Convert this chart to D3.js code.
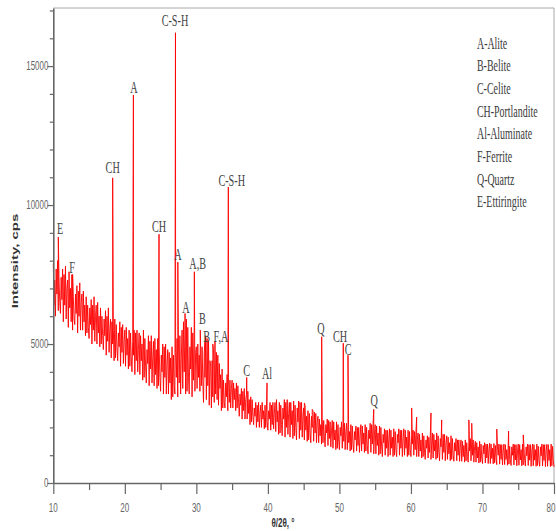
<!DOCTYPE html>
<html>
<head>
<meta charset="utf-8">
<script src="https://cdn.jsdelivr.net/npm/d3@7"></script>
<style>
  body { margin: 0; background: #fff; }
  svg { display: block; }
</style>
</head>
<body>
<div id="chart"></div>
<script>
// background pattern, 2θ from 10 to 80 in 0.1° steps (10 values per degree)
let bgStart = 10;
let bgStep = 0.1;
let bgIntensity = [
  7900, 6400, 7300, 6000, 7700, 6800, 8000, 6200, 7400, 6500,   // 10
  6100, 7400, 6600, 7700, 5800, 7500, 6400, 7800, 5900, 7000,   // 11
  7300, 5600, 7600, 6300, 7000, 5800, 7500, 5500, 6700, 5900,   // 12
  5700, 6800, 6100, 7100, 5400, 6900, 6000, 7200, 5500, 6500,   // 13
  6800, 5500, 6900, 5800, 6400, 5300, 6700, 5400, 6400, 5600,   // 14
  5200, 6300, 5700, 6600, 5000, 6400, 5500, 6700, 5100, 6000,   // 15
  6400, 5000, 6500, 5400, 6000, 4900, 6300, 5000, 6000, 5300,   // 16
  4800, 5900, 5300, 6200, 4600, 6000, 5100, 6300, 4700, 5500,   // 17
  5900, 4500, 5800, 5000, 5500, 4400, 5900, 4500, 5700, 4900,   // 18
  4400, 5400, 4900, 5800, 4200, 5600, 4700, 5700, 4300, 5100,   // 19
  5500, 4200, 5600, 4600, 5200, 4100, 5500, 4200, 5400, 4500,   // 20
  4000, 5100, 4600, 5500, 3900, 5400, 4400, 5500, 4000, 4800,   // 21
  5400, 3900, 5300, 4400, 5000, 3700, 5500, 3800, 5200, 4200,   // 22
  3600, 4800, 4300, 5300, 3500, 5100, 4100, 5300, 3600, 4500,   // 23
  5100, 3500, 5200, 3900, 4800, 3400, 5200, 3500, 4900, 3800,   // 24
  3300, 4600, 4000, 5000, 3200, 4900, 3800, 5000, 3200, 4300,   // 25
  4800, 3200, 4700, 3600, 4500, 3000, 4900, 3100, 4600, 3500,   // 26
  3200, 4700, 3800, 5200, 3100, 5000, 3600, 5300, 3200, 4500,   // 27
  5500, 3400, 5800, 4000, 5300, 3200, 5900, 3300, 5600, 3800,   // 28
  3200, 4900, 4100, 5600, 3100, 5400, 3700, 5600, 3300, 4700,   // 29
  4900, 3400, 5000, 3800, 4600, 3300, 4800, 3500, 4900, 3700,   // 30
  2900, 4700, 3800, 5300, 3000, 5200, 3500, 5100, 2800, 4400,   // 31
  4200, 2700, 4400, 3100, 4800, 2900, 5000, 3200, 4700, 3000,   // 32
  4600, 2800, 4300, 3400, 3900, 2600, 4100, 2700, 3700, 2900,   // 33
  2700, 3600, 3100, 3900, 2600, 3800, 2900, 3700, 2700, 3400,   // 34
  3700, 2700, 3600, 3000, 3400, 2600, 3600, 2700, 3500, 2900,   // 35
  2400, 3200, 2800, 3400, 2300, 3300, 2600, 3400, 2300, 3000,   // 36
  3200, 2300, 3300, 2500, 3000, 2100, 3100, 2200, 3000, 2400,   // 37
  2100, 2700, 2400, 2900, 2000, 2800, 2200, 2900, 2000, 2500,   // 38
  2800, 2000, 2900, 2300, 2600, 1950, 2800, 2000, 2700, 2200,   // 39
  1900, 2600, 2300, 2900, 1900, 2800, 2100, 2900, 1950, 2500,   // 40
  2900, 1850, 3000, 2200, 2600, 1750, 2900, 1800, 2800, 2100,   // 41
  1700, 2700, 2300, 3000, 1650, 2900, 2000, 3000, 1750, 2500,   // 42
  2900, 1650, 2900, 2100, 2600, 1600, 2950, 1700, 2800, 2000,   // 43
  1550, 2700, 2200, 2950, 1600, 2900, 1900, 2900, 1650, 2400,   // 44
  2700, 1550, 2800, 1900, 2400, 1500, 2600, 1550, 2500, 1800,   // 45
  1450, 2400, 2000, 2600, 1500, 2550, 1800, 2500, 1450, 2200,   // 46
  2400, 1450, 2300, 1700, 2100, 1400, 2350, 1450, 2250, 1650,   // 47
  1300, 2100, 1800, 2300, 1350, 2250, 1600, 2200, 1300, 1900,   // 48
  2250, 1250, 2200, 1550, 1900, 1200, 2200, 1250, 2100, 1500,   // 49
  1200, 2000, 1700, 2200, 1250, 2150, 1500, 2150, 1200, 1850,   // 50
  2150, 1200, 2100, 1450, 1850, 1150, 2100, 1200, 2050, 1400,   // 51
  1100, 1850, 1550, 2050, 1150, 2000, 1350, 2000, 1100, 1700,   // 52
  2100, 1150, 2050, 1400, 1800, 1100, 2100, 1150, 2000, 1350,   // 53
  1050, 1900, 1600, 2150, 1100, 2100, 1400, 2100, 1050, 1750,   // 54
  2100, 1050, 2050, 1350, 1800, 1000, 2050, 1050, 2000, 1300,   // 55
  950, 1750, 1450, 1950, 1000, 1900, 1250, 1900, 950, 1600,     // 56
  1950, 1000, 1900, 1250, 1650, 950, 1950, 1000, 1850, 1200,    // 57
  950, 1750, 1450, 1950, 1000, 1900, 1250, 1900, 950, 1600,     // 58
  1950, 1000, 1900, 1250, 1650, 950, 1900, 1000, 1850, 1200,    // 59
  950, 1700, 1400, 1900, 1000, 1850, 1200, 1850, 950, 1550,     // 60
  1800, 950, 1750, 1150, 1550, 900, 1800, 950, 1700, 1100,      // 61
  850, 1550, 1250, 1700, 900, 1650, 1100, 1650, 850, 1400,      // 62
  1800, 900, 1750, 1150, 1550, 850, 1800, 900, 1700, 1100,      // 63
  800, 1600, 1300, 1800, 850, 1750, 1100, 1750, 800, 1450,      // 64
  1700, 850, 1650, 1050, 1450, 800, 1700, 850, 1600, 1000,      // 65
  780, 1450, 1150, 1600, 800, 1550, 1000, 1550, 780, 1300,      // 66
  1550, 780, 1500, 950, 1350, 750, 1550, 800, 1450, 950,        // 67
  750, 1450, 1150, 1600, 800, 1550, 1000, 1550, 750, 1300,      // 68
  1500, 750, 1450, 900, 1300, 720, 1500, 750, 1400, 900,        // 69
  700, 1350, 1050, 1450, 720, 1400, 900, 1400, 700, 1200,       // 70
  1430, 700, 1400, 880, 1250, 690, 1420, 720, 1350, 870,        // 71
  660, 1300, 1000, 1400, 680, 1380, 850, 1380, 650, 1150,       // 72
  1400, 660, 1380, 850, 1200, 640, 1400, 680, 1320, 840,        // 73
  630, 1300, 1000, 1400, 650, 1380, 830, 1380, 620, 1150,       // 74
  1400, 640, 1380, 830, 1200, 620, 1400, 650, 1320, 820,        // 75
  610, 1300, 980, 1400, 630, 1380, 820, 1380, 600, 1150,        // 76
  1400, 620, 1380, 820, 1200, 600, 1400, 630, 1320, 810,        // 77
  600, 1300, 980, 1400, 610, 1380, 810, 1380, 590, 1150,        // 78
  1390, 600, 1380, 810, 1200, 590, 1400, 620, 1320, 800,        // 79
  580                                                           // 80
];

// sharp reflections
let peakTheta = [10.7, 12.7, 18.3, 21.2, 24.78, 27.08, 27.41, 28.42, 29.72, 30.55, 31.2, 32.3, 32.6,
  34.47, 37.04, 39.88, 45.1, 46.2, 47.52, 50.54, 51.2, 54.8, 60.1, 60.8, 62.8, 64.3, 68.1, 68.5,
  72.0, 73.65, 75.7];
let peakIntensity = [8850, 7500, 10980, 13960, 8950, 16200, 7950, 6100, 7600, 5500, 5080, 5000, 5100,
  10650, 3800, 3600, 2880, 2650, 5260, 5030, 4600, 2650, 2700, 2370, 2520, 2270, 2270, 2150,
  1940, 1870, 1730];

// phase labels: text, 2θ, intensity at baseline
let labelText = ["E", "F", "CH", "A", "C-S-H", "CH", "A", "A,B", "A", "B", "B", "F,A", "C-S-H",
  "C", "Al", "Q", "CH", "C", "Q"];
let labelTheta = [10.94, 12.61, 18.3, 21.28, 27.01, 24.78, 27.43, 30.19, 28.55, 30.86, 31.45, 33.44,
  34.94, 37.04, 39.88, 47.43, 50.09, 51.21, 54.85];
let labelIntensity = [8970, 7570, 11170, 14020, 16430, 9040, 8035, 7710, 6125, 5730, 5080, 5080,
  10700, 3855, 3750, 5370, 5080, 4610, 2770];

let legendItems = ["A-Alite", "B-Belite", "C-Celite", "CH-Portlandite", "Al-Aluminate",
  "F-Ferrite", "Q-Quartz", "E-Ettiringite"];

let xTicks = [10, 20, 30, 40, 50, 60, 70, 80];
let xMinor = [15, 25, 35, 45, 55, 65, 75];
let yTicks = [0, 5000, 10000, 15000];
let yMinor = [1000, 2000, 3000, 4000, 6000, 7000, 8000, 9000, 11000, 12000, 13000, 14000, 16000, 17000];

let width = 556;
let height = 531;
let squeeze = 0.62; // the picture is narrowed, so are its letters

let x = d3.scaleLinear().domain([10, 80]).range([53.3, 554]);
let y = d3.scaleLinear().domain([0, 17090]).range([483, 8]);

let svg = d3.select("#chart")
  .append("svg")
  .attr("width", width)
  .attr("height", height);

// merge background and peaks into one pattern
let points = bgIntensity.map((v, i) => [bgStart + i * bgStep, v]);
peakTheta.forEach((t, i) => points.push([t, peakIntensity[i]]));
points.sort((a, b) => a[0] - b[0]);

// frame top / right
svg.append("path")
  .attr("d", `M${x(10)},${y(17090)}H${x(80)}V${y(0)}`)
  .attr("fill", "none")
  .attr("stroke", "#a8a8a8")
  .attr("stroke-width", 1);

svg.append("path")
  .datum(points)
  .attr("fill", "none")
  .attr("stroke", "#f00")
  .attr("stroke-width", 0.9)
  .attr("stroke-linejoin", "round")
  .attr("d", d3.line().x(d => x(d[0])).y(d => y(d[1])));

function styleAxis(g, keepDomain) {
  g.selectAll(".tick line").attr("stroke", "#666").attr("stroke-width", 1.2);
  if (keepDomain) g.select(".domain").attr("stroke", "#666").attr("stroke-width", 1.6);
  else g.select(".domain").remove();
}

svg.append("g")
  .attr("transform", `translate(0,${y(0)})`)
  .call(d3.axisBottom(x).tickValues(xTicks).tickSize(11).tickSizeOuter(0).tickFormat(""))
  .call(g => styleAxis(g, true));

svg.append("g")
  .attr("transform", `translate(0,${y(0)})`)
  .call(d3.axisBottom(x).tickValues(xMinor).tickSize(7).tickFormat(""))
  .call(g => styleAxis(g, false));

svg.append("g")
  .attr("transform", `translate(${x(10)},0)`)
  .call(d3.axisLeft(y).tickValues(yTicks).tickSize(6).tickSizeOuter(0).tickFormat(""))
  .call(g => styleAxis(g, true));

svg.append("g")
  .attr("transform", `translate(${x(10)},0)`)
  .call(d3.axisLeft(y).tickValues(yMinor).tickSize(3.5).tickFormat(""))
  .call(g => styleAxis(g, false));

// tick labels
svg.selectAll(".xlab")
  .data(xTicks)
  .join("text")
  .attr("class", "xlab")
  .attr("transform", d => `translate(${Math.min(x(d), width - 5)},${y(0) + 29}) scale(${squeeze},1)`)
  .attr("text-anchor", "middle")
  .attr("font-family", "Liberation Sans, Arial, sans-serif")
  .attr("font-size", 13)
  .attr("fill", "#666")
  .text(d => d);

svg.selectAll(".ylab")
  .data(yTicks)
  .join("text")
  .attr("class", "ylab")
  .attr("transform", d => `translate(${x(10) - 5},${y(d) + 4}) scale(0.66,1)`)
  .attr("text-anchor", "end")
  .attr("font-family", "Liberation Sans, Arial, sans-serif")
  .attr("font-size", 12)
  .attr("fill", "#666")
  .text(d => d);

// axis titles
svg.append("text")
  .attr("transform", `translate(18,261) scale(${squeeze},1) rotate(-90)`)
  .attr("text-anchor", "middle")
  .attr("font-family", "Liberation Sans, Arial, sans-serif")
  .attr("font-weight", "bold")
  .attr("font-size", 15)
  .attr("fill", "#333")
  .text("Intensity, cps");

svg.append("text")
  .attr("transform", `translate(283,527) scale(${squeeze},1)`)
  .attr("text-anchor", "middle")
  .attr("font-family", "Liberation Sans, Arial, sans-serif")
  .attr("font-weight", "bold")
  .attr("font-size", 13)
  .attr("fill", "#333")
  .text("θ/2θ, °");

// phase labels
svg.selectAll(".plab")
  .data(labelText)
  .join("text")
  .attr("class", "plab")
  .attr("transform", (d, i) => `translate(${x(labelTheta[i])},${y(labelIntensity[i])}) scale(0.6,1)`)
  .attr("text-anchor", "middle")
  .attr("font-family", "Liberation Serif, Times New Roman, serif")
  .attr("font-size", 17)
  .attr("fill", "#444")
  .text(d => d);

// legend
let legend = svg.append("g").attr("transform", "translate(477,48.5)");
legendItems.forEach((t, i) => {
  legend.append("text")
    .attr("transform", `translate(0,${i * 22.7}) scale(${squeeze},1)`)
    .attr("font-family", "Liberation Serif, Times New Roman, serif")
    .attr("font-size", 16)
    .attr("fill", "#3a3a3a")
    .text(t);
});
</script>
</body>
</html>
